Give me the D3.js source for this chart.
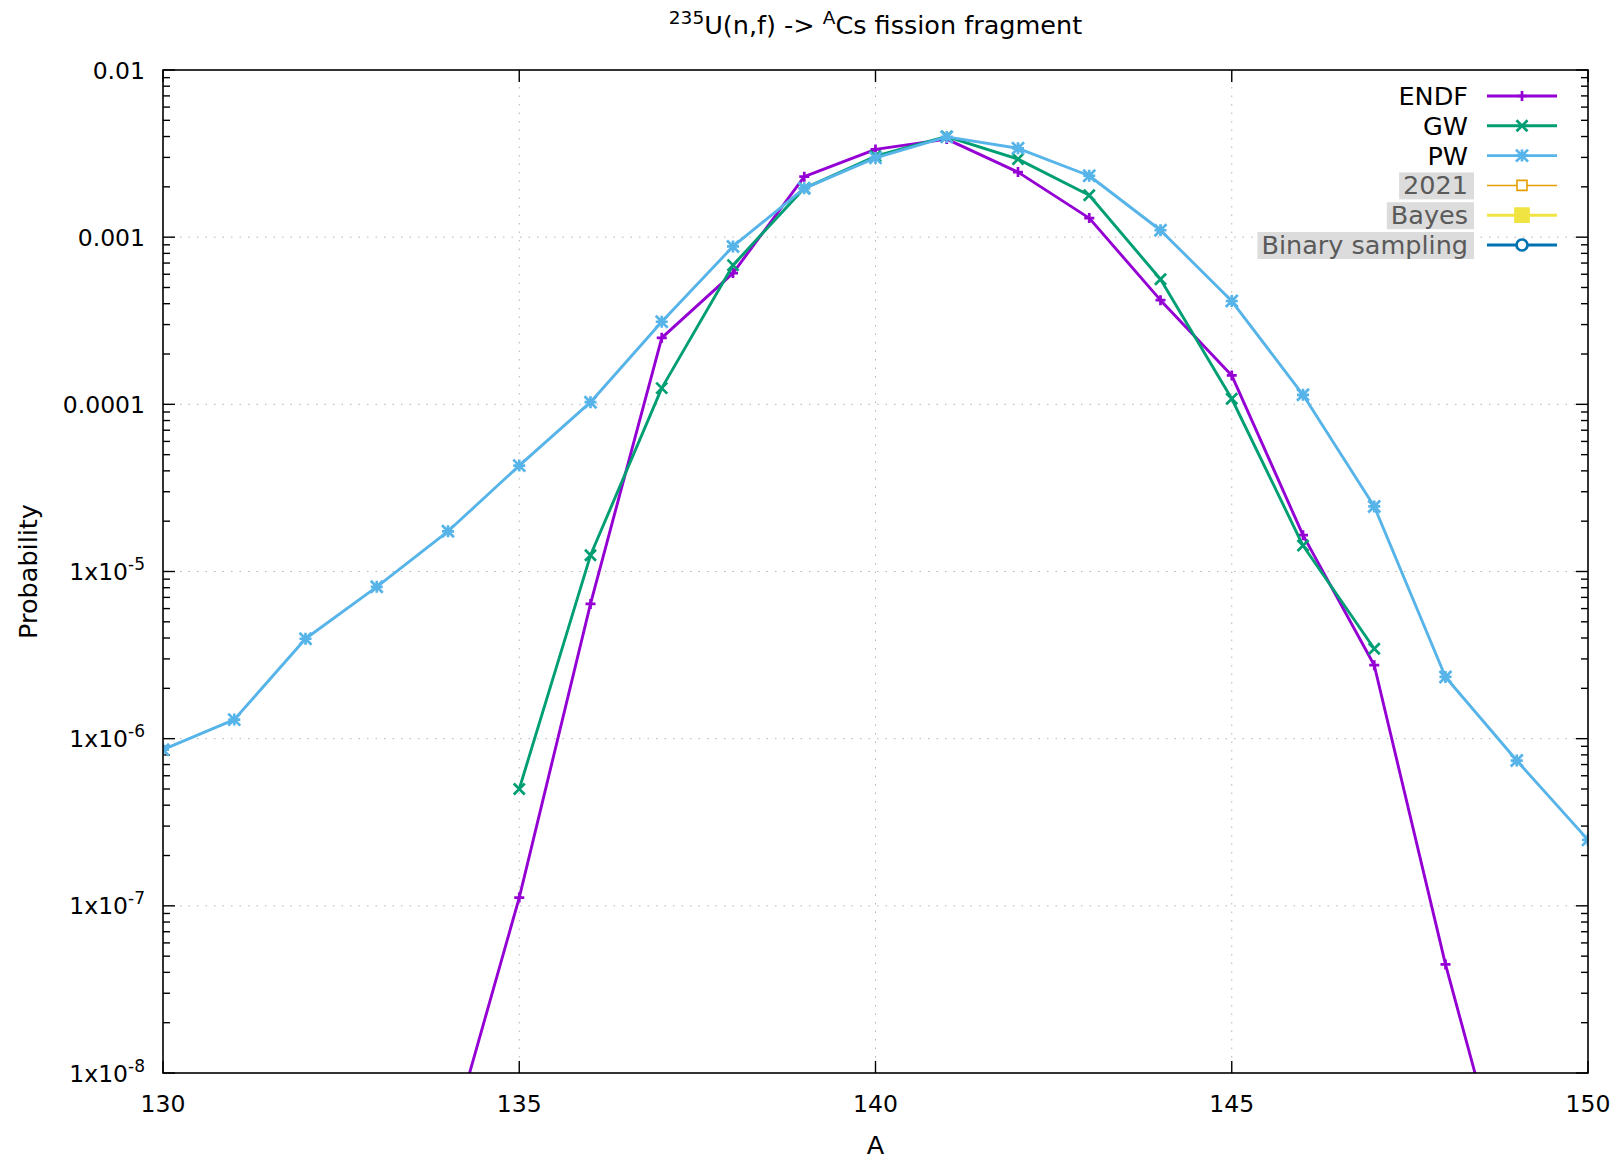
<!DOCTYPE html>
<html>
<head>
<meta charset="utf-8">
<script src="https://cdn.jsdelivr.net/npm/d3@7"></script>
<style>
  body { margin: 0; background: #fff; }
  svg { display: block; }
  text { font-family: "DejaVu Sans", sans-serif; }
</style>
</head>
<body>
<svg id="chart" width="1619" height="1161"></svg>
<script>
// ---------------- data ----------------
const massNumbers = d3.range(130, 151); // A = 130 .. 150
const endf = [null, null, null, null, 3.5e-9, 1.12e-7, 6.4e-6, 2.5e-4, 6.1e-4, 2.3e-3,
              3.35e-3, 3.86e-3, 2.45e-3, 1.3e-3, 4.2e-4, 1.49e-4, 1.65e-5, 2.75e-6, 4.46e-8, 1.2e-9, null];
const gw   = [null, null, null, null, null, 5.0e-7, 1.25e-5, 1.25e-4, 6.8e-4, 1.96e-3,
              3.05e-3, 4.0e-3, 2.93e-3, 1.78e-3, 5.6e-4, 1.08e-4, 1.43e-5, 3.45e-6, null, null, null];
const pw   = [8.6e-7, 1.3e-6, 3.96e-6, 8.1e-6, 1.74e-5, 4.3e-5, 1.03e-4, 3.12e-4, 8.8e-4, 1.96e-3,
              2.98e-3, 3.98e-3, 3.4e-3, 2.33e-3, 1.1e-3, 4.15e-4, 1.14e-4, 2.45e-5, 2.34e-6, 7.4e-7, 2.48e-7];
const xTickValues = [130, 135, 140, 145, 150];
const yTickExponents = [-2, -3, -4, -5, -6, -7, -8];
const yTickPlainLabels = { "-2": "0.01", "-3": "0.001", "-4": "0.0001" };
const legendLabels = ["ENDF", "GW", "PW", "2021", "Bayes", "Binary sampling"];
const legendHidden = [false, false, false, true, true, true];
const titleParts = [["235", true], ["U(n,f) -> ", false], ["A", true], ["Cs fission fragment", false]];

// ---------------- layout ----------------
const svg = d3.select("#chart");
const L = 163, R = 1588, T = 70, B = 1073;
const x = d3.scaleLinear().domain([130, 150]).range([L, R]);
const y = d3.scaleLog().domain([1e-8, 1e-2]).range([B, T]);

const styles = [
  { color: "#9400d3", width: 2.9, marker: "plus",   size: 5 },
  { color: "#009e73", width: 2.9, marker: "cross",  size: 5.5 },
  { color: "#56b4e9", width: 2.9, marker: "star",   size: 6 },
  { color: "#e69f00", width: 1.5, marker: "square", size: 5 },
  { color: "#f0e442", width: 2.9, marker: "fsquare", size: 6.5 },
  { color: "#0072b2", width: 2.9, marker: "circle", size: 5.5 }
];

function markerPath(type, s) {
  const plus = `M${-s},0H${s}M0,${-s}V${s}`;
  const cross = `M${-s},${-s}L${s},${s}M${-s},${s}L${s},${-s}`;
  if (type === "plus") return plus;
  if (type === "cross") return cross;
  if (type === "star") return plus + cross;
  if (type === "square" || type === "fsquare") return `M${-s},${-s}H${s}V${s}H${-s}Z`;
  if (type === "circle") return `M${s},0A${s},${s} 0 1 1 ${-s},0A${s},${s} 0 1 1 ${s},0Z`;
  return "";
}
function drawMarker(g, st, cx, cy) {
  const p = g.append("path")
    .attr("d", markerPath(st.marker, st.size))
    .attr("transform", `translate(${cx},${cy})`)
    .attr("stroke", st.color)
    .attr("stroke-width", st.marker === "square" ? 1.6 : 2.7);
  if (st.marker === "fsquare") p.attr("fill", st.color);
  else if (st.marker === "square" || st.marker === "circle") p.attr("fill", "#fff");
  else p.attr("fill", "none");
}

// clip
svg.append("defs").append("clipPath").attr("id", "plotclip")
  .append("rect").attr("x", L).attr("y", T).attr("width", R - L).attr("height", B - T);

// grid
const grid = svg.append("g").attr("stroke", "#b4b4b4").attr("stroke-width", 1)
  .attr("stroke-dasharray", "1.5,7");
xTickValues.filter(v => v > 130 && v < 150).forEach(v => {
  grid.append("line").attr("x1", x(v)).attr("x2", x(v)).attr("y1", T).attr("y2", B);
});
yTickExponents.filter(e => e < -2 && e > -8).forEach(e => {
  grid.append("line").attr("x1", L).attr("x2", R).attr("y1", y(Math.pow(10, e))).attr("y2", y(Math.pow(10, e)));
});

// ticks
const ticks = svg.append("g").attr("stroke", "#000").attr("stroke-width", 1.4);
xTickValues.forEach(v => {
  ticks.append("line").attr("x1", x(v)).attr("x2", x(v)).attr("y1", B).attr("y2", B - 12);
  ticks.append("line").attr("x1", x(v)).attr("x2", x(v)).attr("y1", T).attr("y2", T + 12);
});
for (let e = -8; e <= -2; e++) {
  const base = Math.pow(10, e);
  const yy = y(base);
  ticks.append("line").attr("x1", L).attr("x2", L + 12).attr("y1", yy).attr("y2", yy);
  ticks.append("line").attr("x1", R).attr("x2", R - 12).attr("y1", yy).attr("y2", yy);
  if (e < -2) {
    for (let m = 2; m <= 9; m++) {
      const ym = y(m * base);
      ticks.append("line").attr("x1", L).attr("x2", L + 7).attr("y1", ym).attr("y2", ym);
      ticks.append("line").attr("x1", R).attr("x2", R - 7).attr("y1", ym).attr("y2", ym);
    }
  }
}

// series
const seriesData = [endf, gw, pw];
const plotG = svg.append("g").attr("clip-path", "url(#plotclip)");
const line = d3.line().defined(d => d.v != null).x(d => x(d.a)).y(d => y(d.v));
seriesData.forEach((vals, i) => {
  const st = styles[i];
  const pts = massNumbers.map((a, k) => ({ a, v: vals[k] }));
  plotG.append("path").datum(pts).attr("d", line)
    .attr("fill", "none").attr("stroke", st.color).attr("stroke-width", st.width)
    .attr("stroke-linejoin", "round");
  const mg = plotG.append("g");
  pts.filter(d => d.v != null).forEach(d => drawMarker(mg, st, x(d.a), y(d.v)));
});

// border
svg.append("rect").attr("x", L).attr("y", T).attr("width", R - L).attr("height", B - T)
  .attr("fill", "none").attr("stroke", "#000").attr("stroke-width", 1.6);

// tick labels
const fs = 23.5, fsBig = 25.5;
xTickValues.forEach(v => {
  svg.append("text").attr("x", x(v)).attr("y", 1112).attr("text-anchor", "middle")
    .attr("font-size", fs).attr("fill", "#000").text(v);
});
yTickExponents.forEach(e => {
  const yy = y(Math.pow(10, e));
  const t = svg.append("text").attr("x", 145).attr("y", yy + 8.5).attr("text-anchor", "end")
    .attr("font-size", fs).attr("fill", "#000");
  if (yTickPlainLabels[e] !== undefined) {
    t.text(yTickPlainLabels[e]);
  } else {
    t.append("tspan").text("1x10");
    t.append("tspan").attr("dy", -10).attr("font-size", 17).text(String(e));
  }
});

// axis titles
svg.append("text").attr("x", (L + R) / 2).attr("y", 1154).attr("text-anchor", "middle")
  .attr("font-size", fsBig).text("A");
svg.append("text").attr("transform", `translate(37,${(T + B) / 2}) rotate(-90)`)
  .attr("text-anchor", "middle").attr("font-size", fsBig).text("Probability");

// title
const title = svg.append("text").attr("x", (L + R) / 2).attr("y", 34)
  .attr("text-anchor", "middle").attr("font-size", fsBig);
let raised = false;
titleParts.forEach(([s, sup]) => {
  const ts = title.append("tspan").text(s);
  if (sup) { ts.attr("font-size", 18.5).attr("dy", raised ? 0 : -10); raised = true; }
  else { ts.attr("dy", raised ? 10 : 0); raised = false; }
});

// legend
const legend = svg.append("g");
legendLabels.forEach((lab, i) => {
  const st = styles[i];
  const cy = 96 + i * 29.8;
  const t = legend.append("text").attr("x", 1468).attr("y", cy + 9).attr("text-anchor", "end")
    .attr("font-size", fsBig).attr("fill", legendHidden[i] ? "#5a5a5a" : "#000").text(lab);
  if (legendHidden[i]) {
    const bb = t.node().getBBox();
    legend.insert("rect", "text").attr("x", bb.x - 4).attr("y", cy - 13)
      .attr("width", 1474 - bb.x + 4).attr("height", 27).attr("fill", "#dcdcdc");
  }
  legend.append("line").attr("x1", 1487).attr("x2", 1557).attr("y1", cy).attr("y2", cy)
    .attr("stroke", st.color).attr("stroke-width", st.width);
  drawMarker(legend, st, 1522, cy);
});
</script>
</body>
</html>
